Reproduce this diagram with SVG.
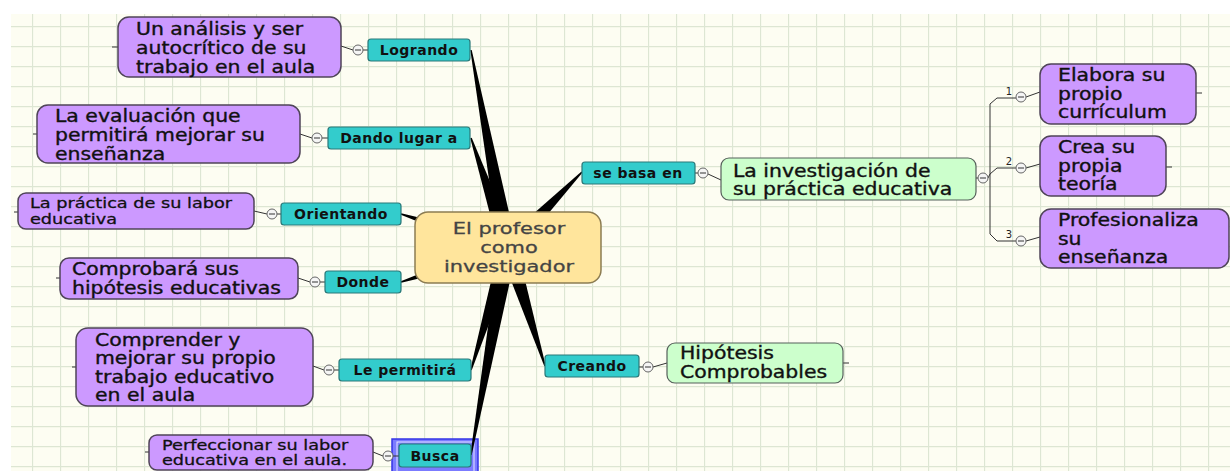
<svg xmlns="http://www.w3.org/2000/svg" xmlns:xlink="http://www.w3.org/1999/xlink" width="1230" height="471" viewBox="0 0 1230 471">
  <style>
    text { font-family: "DejaVu Sans", Verdana, sans-serif; }
    .topic { fill: #ffe59c; stroke: #8c7c52; stroke-width: 1.5; }
    .main { fill: #cc99ff; stroke: #4f4458; stroke-width: 1.5; }
    .rel { fill: #33cccc; stroke: #2a7878; stroke-width: 1.2; }
    .sub { fill: #ccffcc; stroke: #55605a; stroke-width: 1.2; }
    .ct { font-size: 16.5px; fill: #444; stroke: #444; stroke-width: 0.3px; text-anchor: middle; }
    .pt { font-size: 17px; fill: #111; stroke: #111; stroke-width: 0.35px; }
    .ps { font-size: 14.5px; fill: #111; stroke: #111; stroke-width: 0.3px; }
    .tt { font-size: 14px; font-weight: bold; letter-spacing: 0.5px; fill: #111; text-anchor: middle; }
    .num { font-size: 10px; fill: #222; text-anchor: middle; }
    .wedge { fill: #000; }
    .thin { fill: none; stroke: #333; stroke-width: 1; }
  </style>
  <defs>
    <pattern id="grid" patternUnits="userSpaceOnUse" x="4" y="6" width="28" height="20">
      <path d="M0 0.5H28M0.5 0V20" fill="none" stroke="#dde6d3" stroke-width="1.3"/>
    </pattern>
    <g id="minus">
      <circle r="5" fill="#f5f5f5" stroke="#666" stroke-width="1"/>
      <path d="M-3 0H3" stroke="#333" stroke-width="1"/>
    </g>
  </defs>

  <!-- sheet and grid -->
  <rect width="1230" height="471" fill="#ffffff"/>
  <rect x="11" y="14" width="1219" height="457" fill="#fdfdf2"/>
  <rect x="11" y="14" width="1219" height="457" fill="url(#grid)"/>

  <!-- selection frame around "Busca" -->
  <g id="selection">
    <rect x="392" y="439" width="86" height="40" fill="#7b7bff" stroke="#3434e6" stroke-width="1.5"/>
    <rect x="397" y="442" width="77" height="30" fill="none" stroke="#e6e6ff" stroke-width="1"/>
  </g>

  <g id="connectors">
    <!-- tapered branches from the central topic -->
    <polygon class="wedge" points="470.3,50.1 471.7,49.9 516.8,246.3 499.2,249.7"/>
    <polygon class="wedge" points="470.3,138.2 471.7,137.8 516.5,245.1 499.5,250.9"/>
    <polygon class="wedge" points="400.8,214.7 401.2,213.3 510.7,239.4 505.3,256.6"/>
    <polygon class="wedge" points="401.2,282.7 400.8,281.3 505.3,239.4 510.7,256.6"/>
    <polygon class="wedge" points="471.7,370.2 470.3,369.8 499.4,245.4 516.6,250.6"/>
    <polygon class="wedge" points="471.7,455.1 470.3,454.9 499.1,246.4 516.9,249.6"/>
    <polygon class="wedge" points="581.5,171.5 582.5,172.5 514.4,254.3 501.6,241.7"/>
    <polygon class="wedge" points="545.7,365.8 544.3,366.2 499.4,250.7 516.6,245.3"/>

    <!-- short links: relation label -> toggle -> topic -->
    <path class="thin" d="M368 50H363M353 50L341 46"/>
    <path class="thin" d="M328 138H322M312 138L300 134"/>
    <path class="thin" d="M281 214H277M267 214L254 211"/>
    <path class="thin" d="M325 282H320M310 282L298 278"/>
    <path class="thin" d="M339 370H334M324 370L313 366"/>
    <path class="thin" d="M399 456H393M383 456L373 452"/>
    <path class="thin" d="M695 173H698M708 174L721 180"/>
    <path class="thin" d="M639 367H643M653 367L667 363"/>

    <!-- stubs of collapsed branches -->
    <path class="thin" d="M112 47H118M33 134H37M14 212H18M56 278H60M72 367H76M145 452H149M843 363H849M1196 93H1202M1166 167H1172"/>

    <!-- numbered sub-branches -->
    <path class="thin" d="M976 178H979M988 178L990 174M990 104V234M990 104L997 98H1016M990 174L997 168H1016M990 234L997 241H1016"/>
    <path class="thin" d="M1026 97L1040 92M1026 168L1040 164M1026 241L1040 237"/>
    <text class="num" x="1009" y="95">1</text>
    <text class="num" x="1009" y="165">2</text>
    <text class="num" x="1009" y="238">3</text>

    <use href="#minus" x="358" y="50"/>
    <use href="#minus" x="317" y="138"/>
    <use href="#minus" x="272" y="214"/>
    <use href="#minus" x="315" y="282"/>
    <use href="#minus" x="329" y="370"/>
    <use href="#minus" x="388" y="456"/>
    <use href="#minus" x="703" y="173"/>
    <use href="#minus" x="648" y="367"/>
    <use href="#minus" x="983" y="178"/>
    <use href="#minus" x="1021" y="97"/>
    <use href="#minus" x="1021" y="168"/>
    <use href="#minus" x="1021" y="241"/>
  </g>

  <!-- central topic -->
  <g id="node-profesor">
    <rect class="topic" x="415" y="212" width="186" height="71" rx="13"/>
    <g transform="translate(509 0) scale(1.27 1)">
      <text class="ct" x="0" y="234">El profesor</text>
      <text class="ct" x="0" y="253">como</text>
      <text class="ct" x="0" y="272">investigador</text>
    </g>
  </g>

  <!-- relation labels -->
  <g id="node-logrando">
    <rect class="rel" x="368" y="39" width="102" height="22" rx="3"/>
    <text class="tt" x="419" y="55">Logrando</text>
  </g>
  <g id="node-dando">
    <rect class="rel" x="328" y="127" width="142" height="22" rx="3"/>
    <text class="tt" x="399" y="143">Dando lugar a</text>
  </g>
  <g id="node-orientando">
    <rect class="rel" x="281" y="203" width="120" height="22" rx="3"/>
    <text class="tt" x="341" y="219">Orientando</text>
  </g>
  <g id="node-donde">
    <rect class="rel" x="325" y="271" width="76" height="22" rx="3"/>
    <text class="tt" x="363" y="287">Donde</text>
  </g>
  <g id="node-permitira">
    <rect class="rel" x="339" y="359" width="132" height="22" rx="3"/>
    <text class="tt" x="405" y="375">Le permitirá</text>
  </g>
  <g id="node-busca">
    <rect class="rel" x="399" y="444" width="72" height="23" rx="3"/>
    <text class="tt" x="435" y="461">Busca</text>
  </g>
  <g id="node-basa">
    <rect class="rel" x="582" y="162" width="113" height="22" rx="3"/>
    <text class="tt" x="638" y="178">se basa en</text>
  </g>
  <g id="node-creando">
    <rect class="rel" x="545" y="355" width="94" height="22" rx="3"/>
    <text class="tt" x="592" y="371">Creando</text>
  </g>

  <!-- topics -->
  <g id="node-analisis">
    <rect class="main" x="118" y="17" width="223" height="60" rx="11"/>
    <g transform="translate(136 0) scale(1.2 1)">
      <text class="pt" y="35">Un análisis y ser</text>
      <text class="pt" y="54">autocrítico de su</text>
      <text class="pt" y="73">trabajo en el aula</text>
    </g>
  </g>
  <g id="node-evaluacion">
    <rect class="main" x="37" y="105" width="263" height="58" rx="11"/>
    <g transform="translate(55 0) scale(1.2 1)">
      <text class="pt" y="122">La evaluación que</text>
      <text class="pt" y="141">permitirá mejorar su</text>
      <text class="pt" y="160">enseñanza</text>
    </g>
  </g>
  <g id="node-practica">
    <rect class="main" x="18" y="193" width="236" height="36" rx="8"/>
    <g transform="translate(30 0) scale(1.22 1)">
      <text class="ps" y="208">La práctica de su labor</text>
      <text class="ps" y="224">educativa</text>
    </g>
  </g>
  <g id="node-comprobara">
    <rect class="main" x="60" y="258" width="238" height="41" rx="9"/>
    <g transform="translate(72 0) scale(1.2 1)">
      <text class="pt" y="275">Comprobará sus</text>
      <text class="pt" y="294">hipótesis educativas</text>
    </g>
  </g>
  <g id="node-comprender">
    <rect class="main" x="76" y="328" width="237" height="78" rx="12"/>
    <g transform="translate(95 0) scale(1.2 1)">
      <text class="pt" y="346">Comprender y</text>
      <text class="pt" y="364">mejorar su propio</text>
      <text class="pt" y="383">trabajo educativo</text>
      <text class="pt" y="401">en el aula</text>
    </g>
  </g>
  <g id="node-perfeccionar">
    <rect class="main" x="149" y="435" width="224" height="35" rx="8"/>
    <g transform="translate(162 0) scale(1.22 1)">
      <text class="ps" y="450">Perfeccionar su labor</text>
      <text class="ps" y="465">educativa en el aula.</text>
    </g>
  </g>
  <g id="node-investigacion">
    <rect class="sub" x="721" y="158" width="255" height="42" rx="8"/>
    <g transform="translate(733 0) scale(1.2 1)">
      <text class="pt" y="177">La investigación de</text>
      <text class="pt" y="195">su práctica educativa</text>
    </g>
  </g>
  <g id="node-hipotesis">
    <rect class="sub" x="667" y="343" width="176" height="40" rx="8"/>
    <g transform="translate(680 0) scale(1.2 1)">
      <text class="pt" y="359">Hipótesis</text>
      <text class="pt" y="378">Comprobables</text>
    </g>
  </g>
  <g id="node-curriculum">
    <rect class="main" x="1040" y="64" width="156" height="60" rx="11"/>
    <g transform="translate(1058 0) scale(1.2 1)">
      <text class="pt" y="81">Elabora su</text>
      <text class="pt" y="100">propio</text>
      <text class="pt" y="118">currículum</text>
    </g>
  </g>
  <g id="node-teoria">
    <rect class="main" x="1040" y="136" width="126" height="60" rx="11"/>
    <g transform="translate(1058 0) scale(1.2 1)">
      <text class="pt" y="153">Crea su</text>
      <text class="pt" y="172">propia</text>
      <text class="pt" y="190">teoría</text>
    </g>
  </g>
  <g id="node-profesionaliza">
    <rect class="main" x="1040" y="209" width="189" height="59" rx="11"/>
    <g transform="translate(1058 0) scale(1.2 1)">
      <text class="pt" y="226">Profesionaliza</text>
      <text class="pt" y="245">su</text>
      <text class="pt" y="263">enseñanza</text>
    </g>
  </g>
</svg>
